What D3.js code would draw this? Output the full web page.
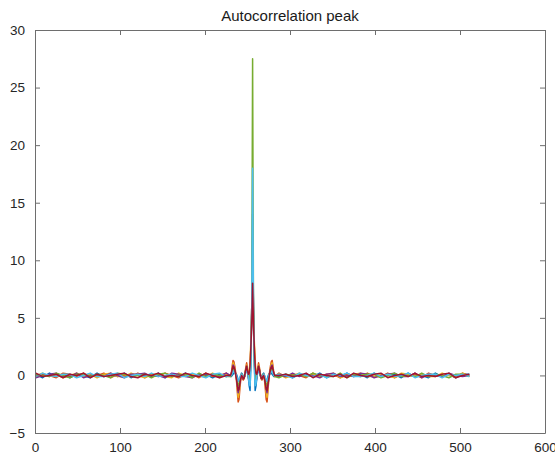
<!DOCTYPE html>
<html>
<head>
<meta charset="utf-8">
<script src="https://cdn.jsdelivr.net/npm/d3@7"></script>
<style>
  body { margin: 0; background: #fff; }
  text { font-family: "Liberation Sans", Arial, Helvetica, sans-serif; }
</style>
</head>
<body>
<svg id="chart" width="555" height="459"></svg>
<script>
// lag positions (tails sampled coarser, centre at every lag)
var lagsLeft = [1,9,17,25,33,41,49,57,65,73,81,89,97,105,113,121,129,137,145,153,161,169,177,185,193,201,209,217,225];
var lagsCentre = [230,231,232,233,234,235,236,237,238,239,240,241,242,243,244,245,246,247,248,249,250,251,252,253,254,255,256,
                  257,258,259,260,261,262,263,264,265,266,267,268,269,270,271,272,273,274,275,276,277,278,279,280,281,282];
var lagsRight = [287,295,303,311,319,327,335,343,351,359,367,375,383,391,399,407,415,423,431,439,447,455,463,471,479,487,495,503,511];

// one array per trace: left tail, centre, right tail
var s1 = [0.1,-0.2,0.2,-0.1,0.1,-0.2,0.1,0,-0.2,0.2,-0.1,0.1,-0.1,0.2,-0.2,0.1,0,-0.1,0.2,-0.2,0.1,-0.1,0.2,-0.1,0,0.1,-0.2,0.1,-0.1,
  0,-0.1,0,0.1,0.2,0.3,0.2,0.1,-0.1,-0.4,-0.5,-0.3,0,0.2,0.1,-0.1,-0.2,0,0.3,0.6,0.4,-0.2,-0.9,-1.3,1.5,6,14,6,1.5,-1.3,-0.9,-0.2,0.4,0.6,0.3,0,-0.2,-0.1,0.1,0.2,0,-0.3,-0.5,-0.4,-0.1,0.1,0.2,0.3,0.2,0.1,0,-0.1,0,
  -0.1,0.1,-0.2,0.1,0,-0.1,0.2,-0.2,0.1,-0.1,0.2,-0.1,0.1,-0.2,0.2,-0.1,0,0.1,-0.2,0.2,-0.1,0,-0.2,0.2,-0.1,0.1,-0.2,0.1,0.1];
var s2 = [-0.1,0.1,0,-0.2,0.2,0.1,-0.1,0.2,-0.1,0,0.2,-0.2,0.1,0,-0.1,0.2,-0.2,0.1,-0.1,0.2,0,-0.2,0.1,0.1,-0.2,0.2,-0.1,0,0.2,
  -0.1,0.2,0.8,1.3,1.2,0.8,0.3,-0.4,-1.4,-2.3,-2.1,-1.2,-0.4,0,-0.2,-0.4,-0.3,0.1,0.7,1.1,0.6,0.1,-0.3,0.6,2.5,6,11,6,2.5,0.6,-0.3,0.1,0.6,1.1,0.7,0.1,-0.3,-0.4,-0.2,0,-0.4,-1.2,-2.1,-2.3,-1.4,-0.4,0.3,0.8,1.2,1.3,0.8,0.2,-0.1,
  0.2,-0.1,0.1,0,-0.2,0.2,-0.1,0.1,0.1,-0.2,0.1,0,-0.1,0.2,-0.1,-0.1,0.2,-0.2,0.1,0,0.1,-0.2,0.2,0,-0.1,0.1,-0.2,0.2,0];
var s3 = [0,0.2,-0.1,0.1,-0.2,0,0.2,-0.1,0.1,-0.2,0.1,0.2,-0.1,-0.1,0.2,0,-0.2,0.1,0.1,-0.1,-0.2,0.2,0,0.1,-0.1,-0.1,0.2,-0.2,0.1,
  0,0.1,0.6,1.1,1,0.6,0.2,-0.3,-1.1,-1.9,-1.6,-0.8,-0.2,0.1,-0.1,-0.3,-0.1,0.2,0.6,0.9,0.5,0.2,0.4,1.2,3,5,9,5,3,1.2,0.4,0.2,0.5,0.9,0.6,0.2,-0.1,-0.3,-0.1,0.1,-0.2,-0.8,-1.6,-1.9,-1.1,-0.3,0.2,0.6,1,1.1,0.6,0.1,0,
  0.1,-0.2,0,0.2,-0.1,0.1,-0.1,0,0.2,-0.2,0,0.1,0.2,-0.1,-0.1,0.1,0,-0.2,0.2,0.1,-0.1,0.1,-0.1,-0.1,0.2,0,-0.1,0.2,-0.1];
var s4 = [-0.2,0,0.1,0.2,-0.1,-0.1,0.2,-0.2,0,0.1,-0.1,0.2,0,-0.2,0.1,0.1,0.2,-0.1,0,-0.2,0.2,0.1,-0.1,-0.2,0.1,0,0.1,-0.1,0.2,
  0,0.1,0.5,0.9,0.8,0.5,0.2,-0.2,-0.9,-1.5,-1.2,-0.6,-0.1,0.1,-0.1,-0.3,-0.2,0.1,0.5,0.8,0.3,-0.2,-0.6,-0.2,1.8,5.5,12,5.5,1.8,-0.2,-0.6,-0.2,0.3,0.8,0.5,0.1,-0.2,-0.3,-0.1,0.1,-0.1,-0.6,-1.2,-1.5,-0.9,-0.2,0.2,0.5,0.8,0.9,0.5,0.1,0,
  0,-0.1,0.2,-0.1,0.1,0,-0.2,0.1,0.2,-0.1,0,-0.1,0.2,0.1,-0.2,0,0.1,0.2,-0.1,-0.1,0.2,-0.2,0.1,0,-0.1,0.2,0,-0.1,0];
var s5 = [0.1,0,-0.1,0.2,0,-0.2,0.1,0.1,-0.1,0.1,0,-0.2,0.2,0.1,-0.1,0,0.1,-0.2,0.1,0.2,-0.1,0,0.1,-0.2,0.2,-0.1,0.1,0,-0.1,
  -0.1,0,0.3,0.6,0.5,0.3,0.1,-0.1,-0.5,-0.9,-0.8,-0.4,-0.1,0.1,0,-0.2,-0.2,0,0.4,0.7,0.4,0,-0.5,-0.2,1.2,6,27.5,6,1.2,-0.2,-0.5,0,0.4,0.7,0.4,0,-0.2,-0.2,0,0.1,-0.1,-0.4,-0.8,-0.9,-0.5,-0.1,0.1,0.3,0.5,0.6,0.3,0,-0.1,
  -0.2,0.1,0,0.1,-0.1,0.2,0,-0.1,-0.1,0.2,-0.2,0.1,0,0.1,0.1,-0.2,0,0.2,-0.1,0,-0.1,0.2,-0.1,0.1,0,-0.2,0.1,0.1,-0.1];
var s6 = [-0.1,0.2,0,-0.1,0.1,0.1,-0.2,0,0.2,-0.1,-0.1,0.1,0.2,-0.2,0,0.1,-0.1,0.2,-0.1,0,0.1,-0.1,-0.1,0.2,0,-0.2,0.1,0.2,-0.1,
  0,0,0.2,0.4,0.3,0.2,0.1,0,-0.3,-0.5,-0.4,-0.2,0,0.1,0,-0.2,-0.1,0,0.3,0.5,0.3,-0.1,-0.7,-0.9,0.6,6,18,6,0.6,-0.9,-0.7,-0.1,0.3,0.5,0.3,0,-0.1,-0.2,0,0.1,0,-0.2,-0.4,-0.5,-0.3,0,0.1,0.2,0.3,0.4,0.2,0,0,
  0.1,0,-0.2,0.2,0,-0.1,0.1,-0.2,0.1,0,0.2,-0.1,-0.1,0,0.2,-0.1,0.1,-0.1,0,0.2,-0.2,0,0.1,0.1,-0.2,0.1,0,0.1,-0.1];
var s7 = [0.2,-0.1,0,0.1,-0.2,0.1,0,0.2,-0.2,0.1,-0.1,0,0.1,0.2,-0.1,-0.2,0.1,0,0.2,-0.1,0,-0.1,0.2,0,-0.1,0.2,0,-0.2,0,
  0,0.2,0.5,0.8,0.7,0.5,0.1,-0.3,-0.8,-1.3,-1.2,-0.7,-0.3,0,-0.1,-0.3,-0.2,0.1,0.5,0.8,0.4,0.1,0.2,0.8,2.5,4.5,8,4.5,2.5,0.8,0.2,0.1,0.4,0.8,0.5,0.1,-0.2,-0.3,-0.1,0,-0.3,-0.7,-1.2,-1.3,-0.8,-0.3,0.1,0.5,0.7,0.8,0.5,0.2,0,
  0,0.1,-0.1,0,0.2,-0.2,0.1,0,-0.1,0.1,-0.2,0.2,0,-0.1,0.1,0.2,-0.2,0,0.1,-0.1,0.2,-0.1,0,-0.1,0.1,0.2,-0.2,0,0.1];

var traces = [s1, s2, s3, s4, s5, s6, s7];
var colours = ["#0072BD","#D95319","#EDB120","#7E2F8E","#77AC30","#4DBEEE","#A2142F"];
var xTicks = [0,100,200,300,400,500,600];
var yTicks = [-5,0,5,10,15,20,25,30];
var title = "Autocorrelation peak";

var lags = lagsLeft.concat(lagsCentre, lagsRight);

//plot box
var margin = {top: 30, right: 10, bottom: 26, left: 35},
    width = 555 - margin.left - margin.right,
    height = 459 - margin.top - margin.bottom;

var svg = d3.select('#chart');
var g = svg.append('g')
  .attr('transform', 'translate(' + margin.left + ',' + margin.top + ')');

var x = d3.scaleLinear().domain([0, 600]).range([0, width]),
    y = d3.scaleLinear().domain([-5, 30]).range([height, 0]);

svg.append('defs').append('clipPath').attr('id', 'clip')
  .append('rect').attr('width', width).attr('height', height);

//traces
var lineFunc = d3.line()
  .x(function(d) { return x(d[0]); })
  .y(function(d) { return y(d[1]); });

var plot = g.append('g').attr('clip-path', 'url(#clip)');
traces.forEach(function(vals, i) {
  var pts = lags.map(function(l, k) { return [l, vals[k]]; });
  plot.append('path')
    .attr('d', lineFunc(pts))
    .attr('fill', 'none')
    .attr('stroke', colours[i])
    .attr('stroke-width', 1.5)
    .attr('stroke-linejoin', 'round');
});

//axes, matlab style: ticks inside, box all round
var axisCol = '#6e6e6e';
function styleAxis(sel) {
  sel.select('.domain').attr('stroke', axisCol);
  sel.selectAll('.tick line').attr('stroke', axisCol);
  sel.selectAll('.tick text')
    .attr('fill', '#262626')
    .style('font-size', '13.5px');
}
var noLabel = function() { return ''; };

g.append('g').attr('transform', 'translate(0,' + height + ')')
  .call(d3.axisBottom(x).tickValues(xTicks).tickSize(-5).tickSizeOuter(0).tickPadding(9))
  .call(styleAxis);
g.append('g')
  .call(d3.axisTop(x).tickValues(xTicks).tickFormat(noLabel).tickSize(-5).tickSizeOuter(0))
  .call(styleAxis);
g.append('g')
  .call(d3.axisLeft(y).tickValues(yTicks).tickSize(-5).tickSizeOuter(0).tickPadding(10))
  .call(styleAxis);
g.append('g').attr('transform', 'translate(' + width + ',0)')
  .call(d3.axisRight(y).tickValues(yTicks).tickFormat(noLabel).tickSize(-5).tickSizeOuter(0))
  .call(styleAxis);

//title
g.append('text')
  .attr('x', width / 2)
  .attr('y', -9)
  .attr('text-anchor', 'middle')
  .attr('fill', '#1a1a1a')
  .style('font-size', '15px')
  .text(title);
</script>
</body>
</html>
